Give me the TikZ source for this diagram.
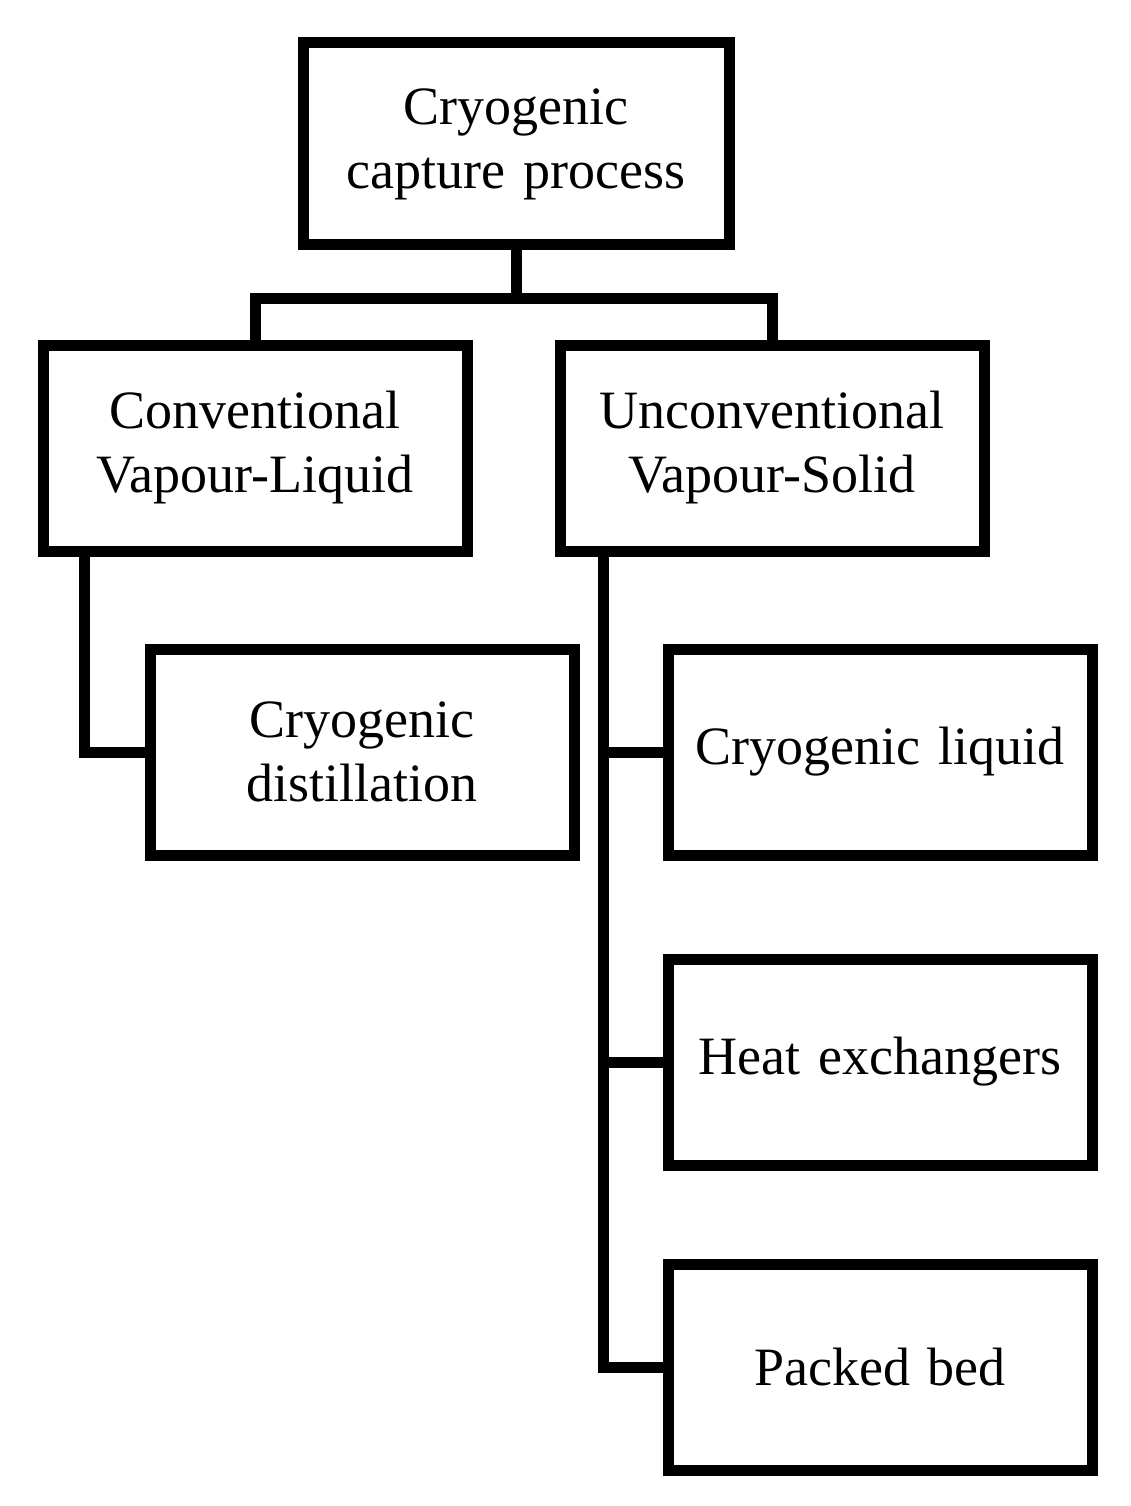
\documentclass[tikz,border=0pt]{standalone}
\usepackage{fontspec}
\setmainfont{Liberation Serif}
\begin{document}
\begin{tikzpicture}[x=1pt,y=-1pt,
  box/.style={draw,line width=11pt,inner sep=0pt,align=center,font=\fontsize{54}{64}\selectfont,minimum width=#1,text width=420pt},
  ln/.style={line width=11pt}]
\useasboundingbox (0,0) rectangle (1130,1506);
\node[box, minimum width=426pt,minimum height=202pt] (top) at (516,144) {Cryogenic\\capture process};
\node[box, minimum width=424pt,minimum height=206pt] (conv) at (255,448) {Conventional\\Vapour-Liquid};
\node[box, minimum width=424pt,minimum height=206pt] (unconv) at (772,448) {Unconventional\\Vapour-Solid};
\node[box, minimum width=424pt,minimum height=206pt] (dist) at (362,752) {Cryogenic\\distillation};
\node[box, minimum width=424pt,minimum height=206pt] (liq) at (880,752) {Cryogenic liquid};
\node[box, minimum width=424pt,minimum height=206pt] (heat) at (880,1062) {Heat exchangers};
\node[box, minimum width=424pt,minimum height=206pt] (bed) at (880,1367) {Packed bed};
\coordinate (j) at (516,298);
\draw[ln] (top.south) -- (j);
\draw[ln] (conv.north) |- (j) -| (unconv.north);
\draw[ln,line cap=rect] (84,551) |- (dist.west);
\draw[ln] (603,551) |- (bed.west);
\draw[ln] (603,752) -- (liq.west);
\draw[ln] (603,1062) -- (heat.west);
\end{tikzpicture}
\end{document}
